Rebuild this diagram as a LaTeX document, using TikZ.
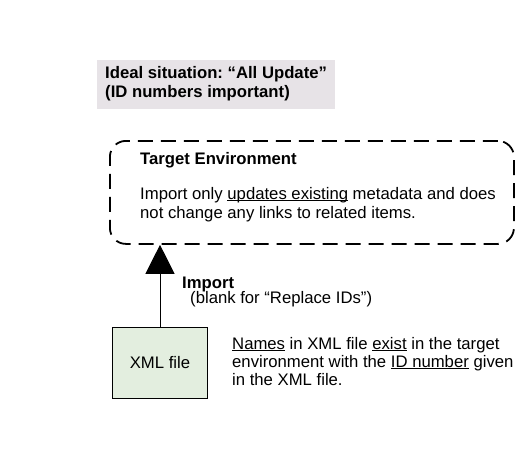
\documentclass[tikz,border=0pt]{standalone}
\usepackage{fontspec}
\setmainfont{Liberation Sans}
\usetikzlibrary{arrows.meta}
\newcommand{\myul}[1]{{\setbox0\hbox{#1}\rlap{\rule[-2.4pt]{\wd0}{1pt}}\box0}}
\definecolor{titlefill}{HTML}{E7E3E7}
\definecolor{xmlfill}{HTML}{E3EEDF}
\frenchspacing
\begin{document}
\begin{tikzpicture}[x=1pt,y=-1pt,
  txt/.style={anchor=base west, inner sep=0pt, font=\fontsize{16.7}{18.5}\selectfont},
  btxt/.style={txt, font=\fontsize{16.7}{18.5}\selectfont\bfseries},
  titlebox/.style={fill=titlefill, draw=none, anchor=north west, minimum width=238pt, minimum height=49pt, inner sep=0pt},
  targetbox/.style={draw, line width=1.8pt, dash pattern=on 15pt off 8pt, rounded corners=16pt, anchor=north west, minimum width=404pt, minimum height=103pt, inner sep=0pt},
  xmlbox/.style={draw, line width=1pt, fill=xmlfill, anchor=north west, minimum width=95pt, minimum height=71pt, inner sep=0pt, font=\fontsize{16.7}{18.5}\selectfont},
  bigarrow/.style={line width=1pt, -{Triangle[width=29pt,length=29pt]}}
]
\useasboundingbox (0,0) rectangle (517,464);
\node[titlebox] (title) at (97,60) {};
\node[btxt] (t1) at (105,78) {Ideal situation: “All Update”};
\node[btxt] (t2) at (105,97) {(ID numbers important)};

\node[targetbox] (target) at (109,140) {};
\node[btxt] (tehead) at (140,164) {Target Environment};
\node[txt] (te1) at (140,199) {Import only \myul{updates existing} metadata and does};
\node[txt] (te2) at (140,218) {not change any links to related items.};

\node[xmlbox] (xml) at (112,327) {XML file};
\draw[bigarrow] (xml.north) -- (xml.north |- target.south);

\node[btxt] (imp) at (182,288) {Import};
\node[txt] (impsub) at (190,303) {(blank for “Replace IDs”)};

\node[txt] (n1) at (232,349) {\myul{Names} in XML file \myul{exist} in the target};
\node[txt] (n2) at (232,367) {environment with the \myul{ID number} given};
\node[txt] (n3) at (232,385) {in the XML file.};
\end{tikzpicture}
\end{document}
